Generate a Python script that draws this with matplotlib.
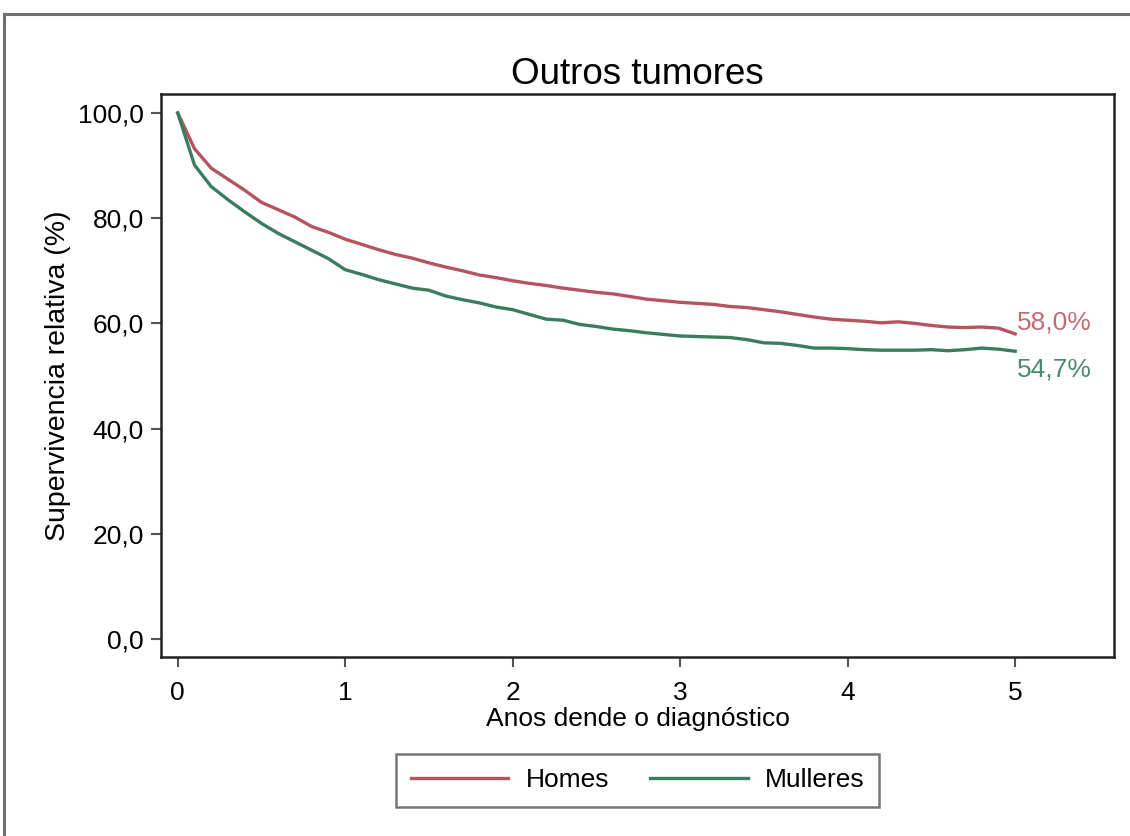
import numpy as np
import matplotlib
matplotlib.use("Agg")
import matplotlib.pyplot as plt
from matplotlib.patches import Rectangle
from matplotlib.ticker import FuncFormatter

plt.rcParams['font.family'] = ['Liberation Sans', 'DejaVu Sans']

title = "Outros tumores"
xlabel = "Anos dende o diagnóstico"
ylabel = "Supervivencia relativa (%)"
series_names = ["Homes", "Mulleres"]
end_labels = ["58,0%", "54,7%"]

years = [i / 10 for i in range(51)]
homes = [100, 93.2, 89.5, 87.4, 85.3, 83.0, 81.6, 80.2, 78.4, 77.3,
         76.0, 75.0, 74.0, 73.1, 72.4, 71.5, 70.7, 70.0, 69.2, 68.7,
         68.1, 67.6, 67.2, 66.7, 66.3, 65.9, 65.6, 65.1, 64.6, 64.3,
         64.0, 63.8, 63.6, 63.2, 63.0, 62.6, 62.2, 61.7, 61.2, 60.8,
         60.6, 60.4, 60.1, 60.3, 60.0, 59.6, 59.3, 59.2, 59.3, 59.1,
         58.0]
mulleres = [100, 90.1, 86.0, 83.5, 81.2, 79.0, 77.1, 75.5, 73.9, 72.3,
            70.2, 69.3, 68.3, 67.5, 66.7, 66.3, 65.2, 64.5, 63.9, 63.1,
            62.6, 61.7, 60.8, 60.6, 59.8, 59.4, 58.9, 58.6, 58.2, 57.9,
            57.6, 57.5, 57.4, 57.3, 56.9, 56.3, 56.2, 55.8, 55.3, 55.3,
            55.2, 55.0, 54.9, 54.9, 54.9, 55.0, 54.8, 55.0, 55.3, 55.1,
            54.7]
yticks = [0, 20, 40, 60, 80, 100]
xticks = [0, 1, 2, 3, 4, 5]

c_red = "#b5545f"
c_green = "#3b7c60"
c_red_txt = "#c06b76"
c_green_txt = "#4b8a6e"

fig = plt.figure(figsize=(11.3, 8.36), dpi=100)
fig.patches.append(Rectangle((4 / 1130, -0.1), 1.2, (836 - 14) / 836 + 0.1,
                             transform=fig.transFigure, fill=False,
                             edgecolor="#707070", linewidth=2.2))
ax = fig.add_axes([161 / 1130, (836 - 657) / 836, (1114 - 161) / 1130, (657 - 94) / 836])

ax.plot(years, homes, color=c_red, lw=2.4, label=series_names[0])
ax.plot(years, mulleres, color=c_green, lw=2.4, label=series_names[1])

ax.annotate(end_labels[0], xy=(years[-1], homes[-1]), xytext=(1, 8.5),
            textcoords="offset points", ha="left", va="center",
            color=c_red_txt, fontsize=19)
ax.annotate(end_labels[1], xy=(years[-1], mulleres[-1]), xytext=(1, -13),
            textcoords="offset points", ha="left", va="center",
            color=c_green_txt, fontsize=19)

ax.set_xlim(-0.10, 5.59)
ax.set_ylim(-3.42, 103.6)
ax.set_yticks(yticks)
ax.set_xticks(xticks)
ax.yaxis.set_major_formatter(FuncFormatter(lambda v, p: f"{v:.1f}".replace(".", ",")))
ax.tick_params(axis="both", direction="out", length=7, width=1.5, color="#555555",
               labelsize=19)
ax.tick_params(axis="x", pad=10)
ax.tick_params(axis="y", pad=5.5)
for s in ax.spines.values():
    s.set_linewidth(1.8)
    s.set_color("#222222")

ax.set_title(title, fontsize=26.5, pad=7)
ax.set_xlabel(xlabel, fontsize=19, labelpad=2)
ax.set_ylabel(ylabel, fontsize=20.5, labelpad=5)

leg = ax.legend(loc="upper center", bbox_to_anchor=(0.5, -0.148), ncol=2, fontsize=19,
                frameon=True, fancybox=False, edgecolor="#555555", handlelength=3.7,
                handletextpad=0.65, columnspacing=1.55, borderpad=0.55)
leg.get_frame().set_linewidth(1.8)

fig.savefig("out.png", dpi=100)
